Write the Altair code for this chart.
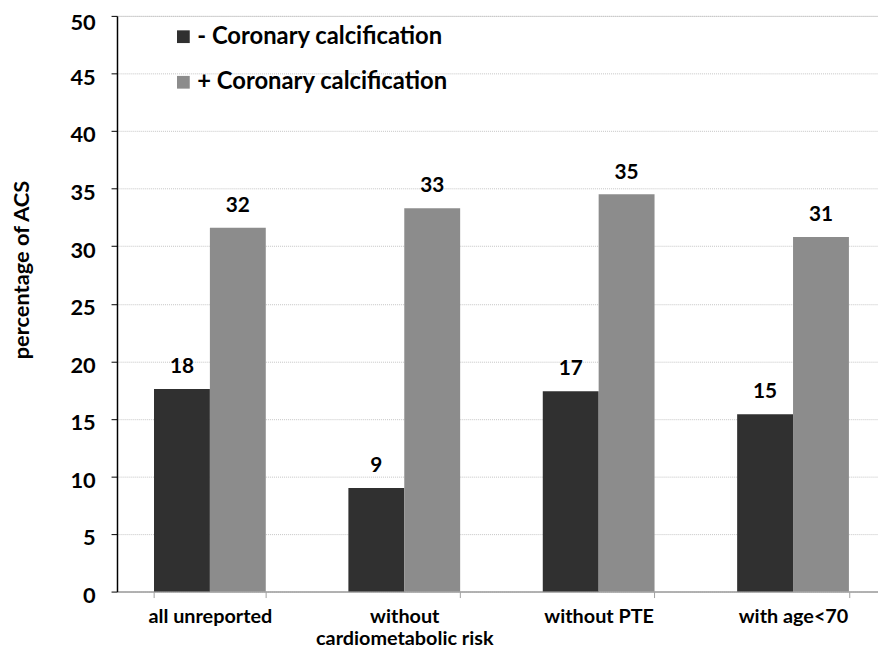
import altair as alt
import pandas as pd

categories = ["all unreported", "without cardiometabolic risk", "without PTE", "with age<70"]
series = ["- Coronary calcification", "+ Coronary calcification"]
minus_values = [17.6, 9.0, 17.4, 15.4]
plus_values = [31.6, 33.3, 34.5, 30.8]
minus_labels = ["18", "9", "17", "15"]
plus_labels = ["32", "33", "35", "31"]
colors = ["#303030", "#8c8c8c"]
y_ticks = [0, 5, 10, 15, 20, 25, 30, 35, 40, 45, 50]

rows = []
for i, c in enumerate(categories):
    rows.append({"cat": c, "series": series[0], "value": minus_values[i], "label": minus_labels[i]})
    rows.append({"cat": c, "series": series[1], "value": plus_values[i], "label": plus_labels[i]})
df = pd.DataFrame(rows)

FONT = "Lato"

x_enc = alt.X(
    "cat:N",
    sort=categories,
    title=None,
    scale=alt.Scale(paddingInner=0.425, paddingOuter=0.17, align=0.56),
    axis=alt.Axis(
        labelExpr="datum.value == 'without cardiometabolic risk' ? ['without', 'cardiometabolic risk'] : datum.label",
    ),
)

y_enc = alt.Y(
    "value:Q",
    scale=alt.Scale(domain=[0, 50], nice=False),
    axis=alt.Axis(
        values=y_ticks,
        title="percentage of ACS",
        labelOffset=alt.condition("datum.value == 50", alt.value(7), alt.value(4)),
    ),
)

color_enc = alt.Color(
    "series:N",
    sort=series,
    scale=alt.Scale(domain=series, range=colors),
    legend=alt.Legend(
        title=None,
        orient="none",
        legendX=55,
        legendY=9,
        symbolType="square",
        symbolSize=165,
        symbolStrokeWidth=0,
        labelFont=FONT,
        labelFontWeight="bold",
        labelFontSize=24,
        labelColor="#000000",
        labelOffset=2,
        labelLimit=0,
        rowPadding=22,
    ),
)

bars = alt.Chart(df).mark_bar(stroke=None).encode(
    x=x_enc,
    xOffset=alt.XOffset("series:N", sort=series),
    y=y_enc,
    color=color_enc,
)

texts = alt.Chart(df).mark_text(
    font=FONT, fontWeight="bold", fontSize=21, color="#000000", baseline="bottom", dy=-12
).encode(
    x=alt.X("cat:N", sort=categories),
    xOffset=alt.XOffset("series:N", sort=series),
    y=alt.Y("value:Q"),
    text="label:N",
)

chart = (
    alt.layer(bars, texts)
    .properties(
        width=768,
        height=581,
        autosize=alt.AutoSizeParams(type="none"),
        padding={"left": 110, "top": 5, "right": 0, "bottom": 58},
    )
    .configure_view(stroke=None)
    .configure(background="#ffffff")
    .configure_axisX(
        labelAngle=0,
        labelFont=FONT,
        labelFontWeight="bold",
        labelFontSize=20,
        labelColor="#000000",
        labelPadding=9,
        labelLineHeight=22,
        labelLimit=0,
        tickBand="extent",
        tickSize=6,
        tickColor="#a0a0a0",
        domainColor="#a0a0a0",
        domainWidth=1.5,
        grid=False,
    )
    .configure_axisY(
        titleFont=FONT,
        titleFontWeight="bold",
        titleFontSize=22,
        titleColor="#000000",
        titleX=-96,
        titleY=256,
        titleAngle=270,
        titleAlign="center",
        titleBaseline="middle",
        labelFont=FONT,
        labelFontWeight="bold",
        labelFontSize=22,
        labelColor="#000000",
        labelPadding=16,
        tickSize=6,
        tickColor="#000000",
        domainColor="#000000",
        domainWidth=1.5,
        grid=True,
        gridColor="#c4c4c4",
        gridDash=[1, 1],
        gridWidth=1,
    )
)

chart.save("out.html", embed_options={"renderer": "svg", "actions": False})
